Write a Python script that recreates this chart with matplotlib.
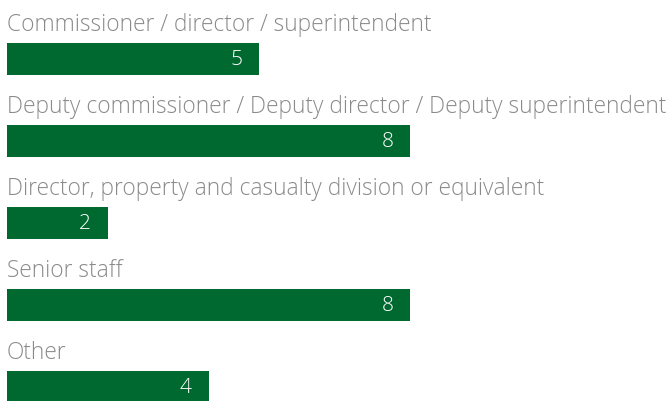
import matplotlib.pyplot as plt

categories = ["Commissioner / director / superintendent",
              "Deputy commissioner / Deputy director / Deputy superintendent",
              "Director, property and casualty division or equivalent",
              "Senior staff",
              "Other"]
values = [5, 8, 2, 8, 4]

plt.rcParams['font.family'] = ['Open Sans', 'DejaVu Sans']

fig = plt.figure(figsize=(6.7, 4.02), dpi=100)
ax = fig.add_axes([0, 0, 1, 1])

pos = list(range(len(values)))
ax.barh(pos, values, height=0.4, color='#00692f')

for i, (cat, v) in enumerate(zip(categories, values)):
    ax.text(0, i - 0.35, cat, fontsize=16.4, fontweight='light', color='#8a8a8a',
            ha='left', va='baseline')
    ax.text(v - 0.33, i, str(v), fontsize=15, fontweight='light', color='white',
            ha='right', va='center')

ax.set_xlim(-7 / 50.4, 663 / 50.4)
ax.set_ylim(342 / 82, -60 / 82)
ax.axis('off')

fig.savefig('out.png', dpi=100)
